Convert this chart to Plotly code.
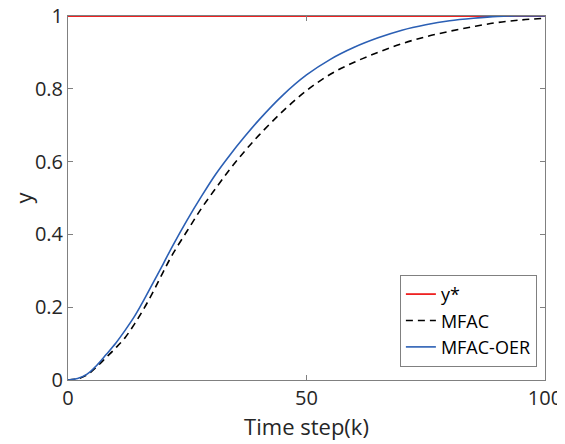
import plotly.graph_objects as go

k_ref = [0, 100]
y_ref = [1, 1]

k_mfac = [0, 2, 4, 6, 8, 10, 12, 14, 16, 18, 20, 22, 25, 28, 31, 34, 37, 40, 45, 50, 55, 60, 65, 70, 75, 80, 85, 90, 95, 100]
y_mfac = [0, 0.003, 0.014, 0.036, 0.062, 0.088, 0.117, 0.155, 0.198, 0.246, 0.298, 0.347, 0.41, 0.472, 0.527,
          0.58, 0.628, 0.672, 0.738, 0.795, 0.84, 0.873, 0.90, 0.924, 0.943, 0.958, 0.971, 0.982, 0.989, 0.994]

k_oer = [0, 2, 4, 6, 8, 10, 12, 14, 16, 18, 20, 22, 25, 28, 31, 34, 37, 40, 45, 50, 55, 60, 65, 70, 75, 80, 85, 90, 95, 100]
y_oer = [0, 0.004, 0.016, 0.04, 0.07, 0.101, 0.137, 0.176, 0.222, 0.271, 0.32, 0.37, 0.44, 0.505, 0.566,
         0.619, 0.668, 0.714, 0.782, 0.838, 0.881, 0.914, 0.94, 0.961, 0.976, 0.987, 0.994, 0.999, 1.0, 1.0]

x_ticks = [0, 50, 100]
y_ticks = [0, 0.2, 0.4, 0.6, 0.8, 1]
y_tick_text = ["0", "0.2", "0.4", "0.6", "0.8", "1"]

fig = go.Figure()
fig.add_trace(go.Scatter(x=k_ref, y=y_ref, mode="lines", name="y*",
                         line=dict(color="#ee2222", width=1.8)))
fig.add_trace(go.Scatter(x=k_mfac, y=y_mfac, mode="lines", name="MFAC", line_shape="spline",
                         line=dict(color="black", width=1.6, dash="7px,5px")))
fig.add_trace(go.Scatter(x=k_oer, y=y_oer, mode="lines", name="MFAC-OER", line_shape="spline",
                         line=dict(color="#2b5fb4", width=1.6)))

font_family = "Open Sans"
axis_common = dict(showline=True, linecolor="#808080", linewidth=1, mirror="ticks",
                   ticks="inside", ticklen=5, tickcolor="#808080", showgrid=False, zeroline=False,
                   automargin=False, ticklabeloverflow="allow",
                   tickfont=dict(family=font_family, size=20, color="#262626"))

fig.update_layout(
    width=557, height=436,
    margin=dict(l=60, r=20, t=8, b=64),
    paper_bgcolor="white", plot_bgcolor="white",
    xaxis=dict(range=[0, 100], tickvals=x_ticks,
               title=dict(text="Time step(k)", font=dict(family=font_family, size=22, color="#262626"), standoff=2),
               **axis_common),
    yaxis=dict(range=[0, 1], tickvals=y_ticks, ticktext=y_tick_text,
               title=dict(text="y", font=dict(family=font_family, size=22, color="#262626"), standoff=8),
               **axis_common),
    legend=dict(x=0.983, y=0.036, xanchor="right", yanchor="bottom",
                bgcolor="white", bordercolor="#808080", borderwidth=1,
                font=dict(family=font_family, size=18, color="black"),
                tracegroupgap=0, itemwidth=30),
    showlegend=True,
)

fig.write_html("out.html", config={"responsive": False})
